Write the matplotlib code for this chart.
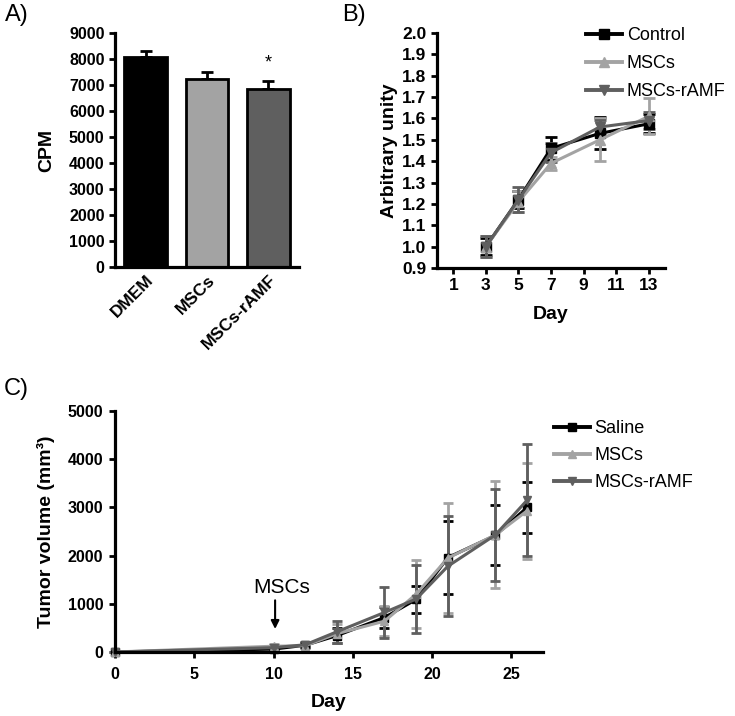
import matplotlib
matplotlib.use("Agg")
import matplotlib.pyplot as plt
from matplotlib.lines import Line2D

plt.rcParams['font.family'] = ['Liberation Sans', 'DejaVu Sans']

# ---------------- data ----------------
a_groups = ['DMEM', 'MSCs', 'MSCs-rAMF']
a_means = [8070, 7220, 6830]
a_sem = [230, 270, 310]

b_days = [3, 5, 7, 10, 13]
b_control = [1.00, 1.22, 1.46, 1.53, 1.575]
b_control_err = [0.04, 0.04, 0.055, 0.075, 0.045]
b_mscs = [1.00, 1.21, 1.39, 1.50, 1.61]
b_mscs_err = [0.05, 0.05, 0.03, 0.10, 0.085]
b_ramf = [1.00, 1.22, 1.44, 1.56, 1.59]
b_ramf_err = [0.05, 0.06, 0.045, 0.035, 0.04]
b_labels = ['Control', 'MSCs', 'MSCs-rAMF']

c_days = [0, 10, 12, 14, 17, 19, 21, 24, 26]
c_saline = [0, 60, 140, 340, 715, 1090, 1960, 2420, 3000]
c_saline_err = [0, 40, 40, 150, 225, 275, 750, 620, 530]
c_mscs = [0, 120, 130, 380, 640, 1200, 1950, 2430, 2930]
c_mscs_err = [0, 50, 40, 200, 310, 700, 1150, 1110, 1000]
c_ramf = [0, 90, 150, 420, 820, 1100, 1780, 2430, 3150]
c_ramf_err = [0, 50, 50, 230, 520, 710, 1040, 960, 1160]
c_labels = ['Saline', 'MSCs', 'MSCs-rAMF']

BLACK = '#000000'
LIGHT = '#a3a3a3'
DARK = '#5f5f5f'
colors = [BLACK, LIGHT, DARK]
markers = ['s', '^', 'v']

W, H = 735, 716
fig = plt.figure(figsize=(W / 100, H / 100), dpi=100)


def px_axes(l, r, t, b):
    return fig.add_axes([l / W, 1 - b / H, (r - l) / W, (b - t) / H])


def style(ax, xticks=True):
    for s in ['top', 'right']:
        ax.spines[s].set_visible(False)
    for s in ['left', 'bottom']:
        ax.spines[s].set_linewidth(2.3)
    ax.tick_params(axis='both', direction='out', width=2.0, length=4.5, pad=3)
    if not xticks:
        ax.tick_params(axis='x', length=0)


# ---------------- Panel A ----------------
axA = px_axes(115, 299, 33, 267)
xa = list(range(len(a_groups)))
axA.bar(xa, a_means, width=0.7, color=colors, edgecolor='black', linewidth=2.0, zorder=2)
axA.errorbar(xa, a_means, yerr=[[0] * 3, a_sem], fmt='none', ecolor='black',
             elinewidth=2.0, capsize=4.5, capthick=2.0, zorder=1)
axA.set_xlim(-0.5, 2.5)
axA.set_ylim(0, 9000)
axA.set_yticks(range(0, 9001, 1000))
axA.set_xticks(xa)
axA.set_xticklabels(a_groups, rotation=45, ha='right', rotation_mode='anchor',
                    fontsize=12.5, fontweight='bold')
for lab in axA.get_yticklabels():
    lab.set_fontsize(11.5)
    lab.set_fontweight('bold')
axA.set_ylabel('CPM', fontsize=14, fontweight='bold', labelpad=10)
style(axA, xticks=False)
axA.tick_params(axis='x', pad=4)
axA.text(2, a_means[2] + a_sem[2] + 700, '*', ha='center', va='center', fontsize=13)

# ---------------- Panel B ----------------
axB = px_axes(437, 665, 33, 268)
b_series = [(b_control, b_control_err), (b_mscs, b_mscs_err), (b_ramf, b_ramf_err)]
handles = []
for (vals, errs), c, m, lab in zip(b_series, colors, markers, b_labels):
    axB.errorbar(b_days, vals, yerr=errs, color=c, marker=m, markersize=6.5,
                 linewidth=2.2, elinewidth=2.0, capsize=4.3, capthick=2.0, clip_on=False)
    handles.append(Line2D([], [], color=c, marker=m, markersize=6.5, linewidth=2.8))
axB.set_xlim(0, 14)
axB.set_ylim(0.9, 2.0)
axB.set_xticks([1, 3, 5, 7, 9, 11, 13])
axB.set_yticks([0.9 + 0.1 * i for i in range(12)])
axB.set_yticklabels(['%.1f' % (0.9 + 0.1 * i) for i in range(12)])
for lab in axB.get_xticklabels() + axB.get_yticklabels():
    lab.set_fontsize(12.5)
    lab.set_fontweight('bold')
style(axB)
axB.set_xlabel('Day', fontsize=14, fontweight='bold', labelpad=9)
axB.set_ylabel('Arbitrary unity', fontsize=14, fontweight='bold', labelpad=3)
fig.legend(handles, b_labels, loc='upper left', bbox_to_anchor=(586 / W, 1 - 27 / H),
           frameon=False, fontsize=13, handlelength=2.0, handletextpad=0.25,
           labelspacing=0.62, borderpad=0, borderaxespad=0)

# ---------------- Panel C ----------------
axC = px_axes(115, 543, 411, 652)
c_series = [(c_saline, c_saline_err), (c_mscs, c_mscs_err), (c_ramf, c_ramf_err)]
handlesC = []
for (vals, errs), c, m, lab in zip(c_series, colors, markers, c_labels):
    axC.errorbar(c_days, vals, yerr=errs, color=c, marker=m, markersize=6,
                 linewidth=2.2, elinewidth=2.0, capsize=3.8, capthick=2.0, clip_on=False)
    handlesC.append(Line2D([], [], color=c, marker=m, markersize=6, linewidth=2.8))
axC.set_xlim(0, 27)
axC.set_ylim(0, 5000)
axC.set_xticks([0, 5, 10, 15, 20, 25])
axC.set_yticks(range(0, 5001, 1000))
for lab in axC.get_xticklabels() + axC.get_yticklabels():
    lab.set_fontsize(11.5)
    lab.set_fontweight('bold')
style(axC)
axC.tick_params(axis='x', pad=6)
axC.tick_params(axis='y', pad=4)
axC.set_xlabel('Day', fontsize=14, fontweight='bold', labelpad=9)
axC.set_ylabel('Tumor volume (mm³)', fontsize=14, fontweight='bold', labelpad=9)
axC.text(10.5, 1330, 'MSCs', ha='center', va='center', fontsize=15)
axC.annotate('', xy=(10.1, 420), xytext=(10.1, 1130),
             arrowprops=dict(arrowstyle='-|>', color='black', lw=1.5, mutation_scale=12))
fig.legend(handlesC, c_labels, loc='upper left', bbox_to_anchor=(554 / W, 1 - 420 / H),
           frameon=False, fontsize=13, handlelength=2.0, handletextpad=0.25,
           labelspacing=0.55, borderpad=0, borderaxespad=0)

# ---------------- panel letters ----------------
fig.text(5 / W, 1 - 15 / H, 'A)', fontsize=17, ha='left', va='center')
fig.text(342 / W, 1 - 15 / H, 'B)', fontsize=17, ha='left', va='center')
fig.text(4 / W, 1 - 389 / H, 'C)', fontsize=17, ha='left', va='center')

fig.savefig('out.png', dpi=100)
